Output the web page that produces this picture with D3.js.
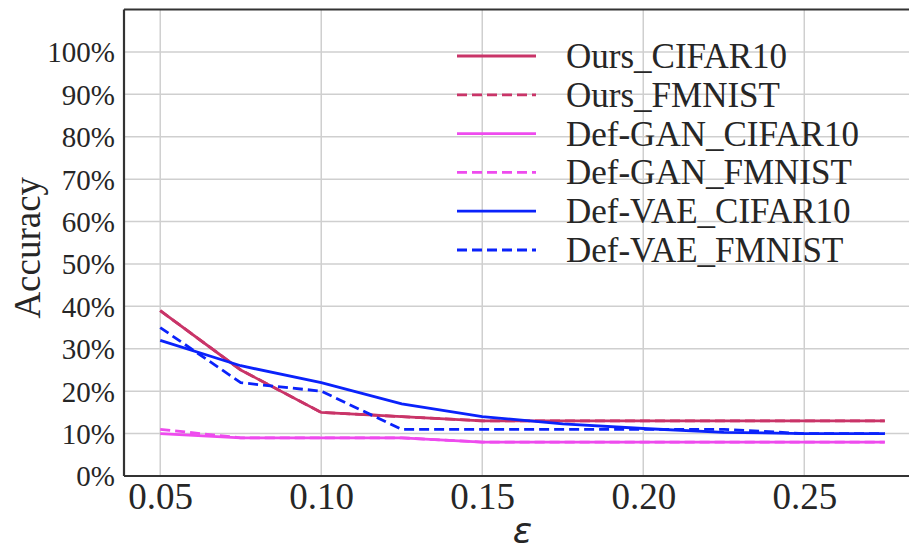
<!DOCTYPE html>
<html>
<head>
<meta charset="utf-8">
<script src="https://cdn.jsdelivr.net/npm/d3@7"></script>
<style>
  body { margin: 0; background: #fff; }
  svg { display: block; }
</style>
</head>
<body>
<svg id="chart" width="909" height="552"></svg>
<script>
// epsilon values on the x axis
var epsilons = [0.05, 0.075, 0.10, 0.125, 0.15, 0.175, 0.20, 0.225, 0.25, 0.275];

// accuracy (%) for each series
var oursCifar   = [39, 25, 15, 14, 13, 13, 13, 13, 13, 13];
var oursFmnist  = [39, 25, 15, 14, 13, 13, 13, 13, 13, 13];
var ganCifar    = [10, 9, 9, 9, 8, 8, 8, 8, 8, 8];
var ganFmnist   = [11, 9, 9, 9, 8, 8, 8, 8, 8, 8];
var vaeCifar    = [32, 26, 22, 17, 14, 12.3, 11.2, 10.3, 10, 10];
var vaeFmnist   = [35, 22, 20, 11, 11, 11, 11, 11, 10, 10];

var xTicks = [0.05, 0.10, 0.15, 0.20, 0.25];
var yTicks = [0, 10, 20, 30, 40, 50, 60, 70, 80, 90, 100];

var series = [
  { name: "Ours_CIFAR10",    values: oursCifar,  color: "#c93468", dashed: false, z: 1 },
  { name: "Ours_FMNIST",     values: oursFmnist, color: "#c93468", dashed: true,  z: 0 },
  { name: "Def-GAN_CIFAR10", values: ganCifar,   color: "#ee4bee", dashed: false, z: 2 },
  { name: "Def-GAN_FMNIST",  values: ganFmnist,  color: "#ee4bee", dashed: true,  z: 3 },
  { name: "Def-VAE_CIFAR10", values: vaeCifar,   color: "#0a22fb", dashed: false, z: 4 },
  { name: "Def-VAE_FMNIST",  values: vaeFmnist,  color: "#0a22fb", dashed: true,  z: 5 }
];

var svg = d3.select("#chart");
svg.append("rect").attr("width", 909).attr("height", 552).attr("fill", "#fff");

// plot area (right edge runs past the picture, as in the original)
var plotLeft = 124, plotRight = 921, plotTop = 9.5, plotBottom = 476;
var serif = "'Liberation Serif', 'Times New Roman', serif";

var xScale = d3.scaleLinear().domain([0.03875, 0.28625]).range([plotLeft, plotRight]);
var yScale = d3.scaleLinear().domain([0, 110]).range([plotBottom, plotTop]);

//grid
var grid = svg.append("g");
grid.selectAll(".vgrid").data(xTicks).enter().append("line")
  .attr("x1", function(d) { return xScale(d); })
  .attr("x2", function(d) { return xScale(d); })
  .attr("y1", plotTop).attr("y2", plotBottom)
  .attr("stroke", "#cfcfcf").attr("stroke-width", 1.5);
grid.selectAll(".hgrid").data(yTicks).enter().append("line")
  .attr("x1", plotLeft).attr("x2", plotRight)
  .attr("y1", function(d) { return yScale(d); })
  .attr("y2", function(d) { return yScale(d); })
  .attr("stroke", "#cfcfcf").attr("stroke-width", 1.5);

//axes text
var yAxis = d3.axisLeft(yScale).tickValues(yTicks)
  .tickFormat(function(d) { return d + "%"; }).tickSize(0).tickPadding(9);
var gy = svg.append("g").attr("transform", "translate(" + plotLeft + ",0)").call(yAxis);
gy.select(".domain").remove();
gy.selectAll("text")
  .attr("font-family", serif)
  .attr("font-size", 29).attr("fill", "#262626").attr("dy", "0.34em");

var xAxis = d3.axisBottom(xScale).tickValues(xTicks)
  .tickFormat(d3.format(".2f")).tickSize(0).tickPadding(7);
var gx = svg.append("g").attr("transform", "translate(0," + plotBottom + ")").call(xAxis);
gx.select(".domain").remove();
gx.selectAll("text")
  .attr("font-family", serif)
  .attr("font-size", 37).attr("fill", "#262626");

svg.append("text")
  .attr("transform", "translate(40," + ((plotTop + plotBottom) / 2 + 5) + ") rotate(-90)")
  .attr("text-anchor", "middle")
  .attr("font-family", serif)
  .attr("font-size", 37).attr("fill", "#262626")
  .text("Accuracy");

svg.append("text")
  .attr("x", (plotLeft + plotRight) / 2).attr("y", 543)
  .attr("text-anchor", "middle")
  .attr("font-family", "'DejaVu Sans', sans-serif")
  .attr("font-style", "italic")
  .attr("font-size", 36).attr("fill", "#262626")
  .text("ε");

//lines (Ours_FMNIST sits under Ours_CIFAR10)
var line = d3.line()
  .x(function(d, i) { return xScale(epsilons[i]); })
  .y(function(d) { return yScale(d); });

var drawOrder = series.slice().sort(function(a, b) { return a.z - b.z; });
svg.append("g").selectAll("path").data(drawOrder).enter().append("path")
  .attr("d", function(d) { return line(d.values); })
  .attr("fill", "none")
  .attr("stroke", function(d) { return d.color; })
  .attr("stroke-width", 2.8)
  .attr("stroke-dasharray", function(d) { return d.dashed ? "10,5" : null; });

//frame
var frame = svg.append("g").attr("stroke", "#333").attr("stroke-width", 2.2);
frame.append("line").attr("x1", plotLeft).attr("x2", plotLeft).attr("y1", plotTop).attr("y2", plotBottom);
frame.append("line").attr("x1", plotLeft).attr("x2", plotRight).attr("y1", plotTop).attr("y2", plotTop);
frame.append("line").attr("x1", plotLeft).attr("x2", plotRight).attr("y1", plotBottom).attr("y2", plotBottom);

//legend
var legend = svg.append("g");
var rows = legend.selectAll("g").data(series).enter().append("g")
  .attr("transform", function(d, i) { return "translate(0," + (56 + i * 38.8) + ")"; });
rows.append("line")
  .attr("x1", 457).attr("x2", 536)
  .attr("stroke", function(d) { return d.color; })
  .attr("stroke-width", 2.8)
  .attr("stroke-dasharray", function(d) { return d.dashed ? "10,5" : null; });
rows.append("text")
  .attr("x", 566).attr("y", 12)
  .attr("font-family", serif)
  .attr("font-size", 35).attr("fill", "#262626")
  .text(function(d) { return d.name; });
</script>
</body>
</html>
